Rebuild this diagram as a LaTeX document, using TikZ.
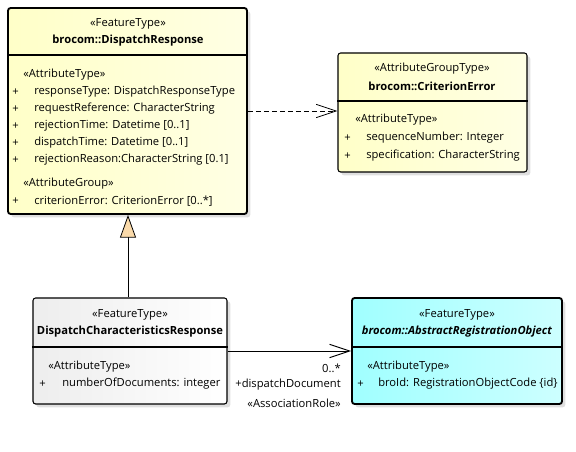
\documentclass[tikz,border=0pt]{standalone}
\usepackage{fontspec}
\setmainfont{Open Sans}
\usetikzlibrary{arrows.meta,fit,shadows}

\definecolor{ftyellow}{RGB}{255,255,200}
\definecolor{ftyellowlt}{RGB}{255,255,228}
\definecolor{ftcyan}{RGB}{160,255,255}
\definecolor{ftcyanlt}{RGB}{205,255,255}
\definecolor{genpeach}{RGB}{250,218,170}
\newcommand\umlfont{\fontsize{8.4}{10}\selectfont}

\tikzset{
  cls/.style={draw,rounded corners=2pt,inner sep=0pt,
    drop shadow={shadow xshift=2.5pt,shadow yshift=-2.5pt,fill=black!25}},
  heavy/.style={line width=1.4pt},
  barb/.style={-{Straight Barb[length=15pt,width=10pt]}}
}

\begin{document}
\begin{tikzpicture}[x=0.75pt,y=-0.75pt,every node/.style={font=\umlfont,inner sep=0pt}]
\useasboundingbox (0,0) rectangle (576,452);

% class boxes
\node[cls,heavy,left color=ftyellow,right color=ftyellowlt,fit={(8,8) (247,214)}] (resp) {};
\node[cls,line width=0.8pt,left color=ftyellow,right color=ftyellowlt,fit={(338,53) (527,172)}] (crit) {};
\node[cls,line width=0.8pt,left color=black!7,right color=white,fit={(33,298) (227,404)}] (dcr) {};
\node[cls,heavy,left color=ftcyan,right color=ftcyanlt,fit={(352,298) (562,404)}] (aro) {};

\draw[heavy] (resp.west |- 0,55) -- (resp.east |- 0,55);
\draw[line width=0.8pt] (crit.west |- 0,101) -- (crit.east |- 0,101);
\draw[line width=0.8pt] (dcr.west |- 0,347) -- (dcr.east |- 0,347);
\draw[heavy] (aro.west |- 0,347) -- (aro.east |- 0,347);

% brocom::DispatchResponse
\node (resp-st) at (128,24) {«FeatureType»};
\node (resp-nm) at (128,41) {\textbf{brocom::DispatchResponse}};
\node[anchor=west] (resp-at) at (23,75) {«AttributeType»};
\foreach \a [count=\i] in {{responseType: DispatchResponseType},{requestReference: CharacterString},
  {rejectionTime: Datetime [0..1]},{dispatchTime: Datetime [0..1]},{rejectionReason:CharacterString [0.1]}} {
  \node[anchor=west] (resp-p\i) at (12,{75+17*\i}) {+};
  \node[anchor=west] (resp-a\i) at (34,{75+17*\i}) {\a};
}
\node[anchor=west] (resp-ag) at (23,184) {«AttributeGroup»};
\node[anchor=west] (resp-p6) at (12,201) {+};
\node[anchor=west] (resp-a6) at (34,201) {criterionError: CriterionError [0..*]};

% brocom::CriterionError
\node (crit-st) at (432,69) {«AttributeGroupType»};
\node (crit-nm) at (432,86) {\textbf{brocom::CriterionError}};
\node[anchor=west] (crit-at) at (355,120) {«AttributeType»};
\node[anchor=west] (crit-p1) at (344,138) {+};
\node[anchor=west] (crit-a1) at (366,138) {sequenceNumber: Integer};
\node[anchor=west] (crit-p2) at (344,156) {+};
\node[anchor=west] (crit-a2) at (366,156) {specification: CharacterString};

% DispatchCharacteristicsResponse
\node (dcr-st) at (130,315) {«FeatureType»};
\node (dcr-nm) at (130,332) {\textbf{DispatchCharacteristicsResponse}};
\node[anchor=west] (dcr-at) at (48,367) {«AttributeType»};
\node[anchor=west] (dcr-p1) at (39,384) {+};
\node[anchor=west] (dcr-a1) at (62,384) {numberOfDocuments: integer};

% brocom::AbstractRegistrationObject
\node (aro-st) at (457,315) {«FeatureType»};
\node (aro-nm) at (457,332) {\textbf{\textit{brocom::AbstractRegistrationObject}}};
\node[anchor=west] (aro-at) at (367,367) {«AttributeType»};
\node[anchor=west] (aro-p1) at (357,384) {+};
\node[anchor=west] (aro-a1) at (378,384) {broId: RegistrationObjectCode \{id\}};

% connectors
\draw[barb,line width=0.6pt,dash pattern=on 3.5pt off 2.5pt] (resp.east |- 0,111) -- (crit.west |- 0,111);
\draw[line width=0.7pt,-{Triangle[fill=genpeach,length=17pt,width=12pt,line width=0.6pt]}] (dcr.north -| 128,0) -- (resp.south -| 128,0);
\draw[barb,line width=0.7pt] (dcr.east |- 0,351) -- (aro.west |- 0,351);
\node[anchor=east] (mult) at (341,368) {0..*};
\node[anchor=east] (role) at (341,385) {+dispatchDocument};
\node[anchor=east] (rolest) at (341,403) {«AssociationRole»};
\end{tikzpicture}
\end{document}
